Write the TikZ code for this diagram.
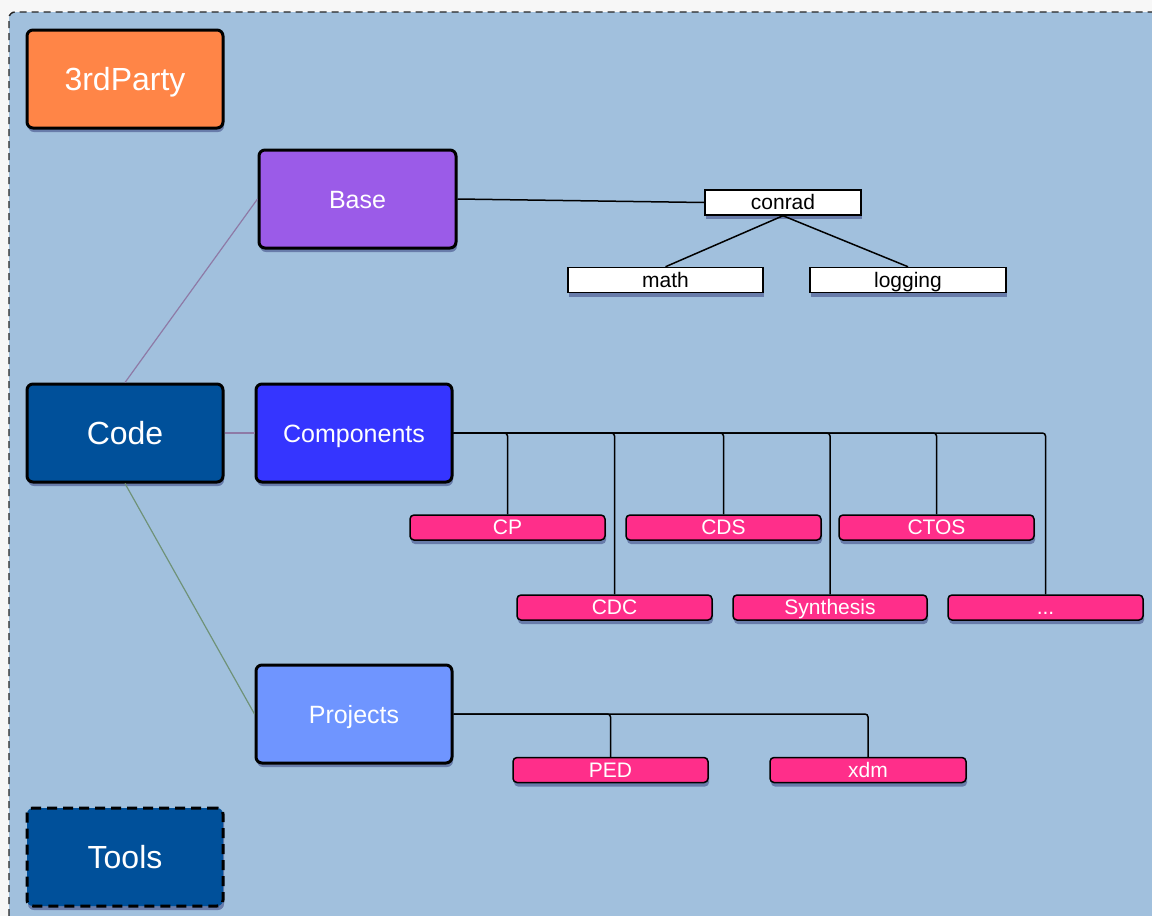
\documentclass[tikz,border=0pt]{standalone}
\usepackage{fontspec}
\setmainfont{Liberation Sans}
\usetikzlibrary{shadows}
\definecolor{paneBlue}{HTML}{A1C0DD}
\definecolor{partyOrange}{HTML}{FF8547}
\definecolor{baseViolet}{HTML}{9B5BE8}
\definecolor{codeBlue}{HTML}{00509A}
\definecolor{compBlue}{HTML}{3535FF}
\definecolor{projBlue}{HTML}{6F95FF}
\definecolor{libPink}{HTML}{FF2E8A}
\definecolor{linkViolet}{HTML}{8E7AA6}
\definecolor{linkGreen}{HTML}{6F9278}
\tikzset{
  boxshadow/.style={drop shadow={shadow xshift=1pt, shadow yshift=-4pt, opacity=.35, fill=black!70!blue}},
  bigbox/.style={draw=black, line width=3pt, rounded corners=6pt, minimum width=196pt,
    minimum height=98pt, inner sep=0pt, text=white, boxshadow},
  topfont/.style={font=\fontsize{32}{32}\selectfont, text height=23pt, text depth=0pt},
  midfont/.style={font=\fontsize{25}{25}\selectfont, text height=18pt, text depth=0pt},
  libbox/.style={draw=black, line width=1.5pt, rounded corners=4pt, minimum width=195pt,
    minimum height=25pt, inner sep=0pt, text height=15pt, text depth=1pt,
    font=\fontsize{21}{21}\selectfont, boxshadow},
  modbox/.style={libbox, fill=libPink, text=white},
  pkgbox/.style={libbox, rounded corners=0pt, fill=white, text=black},
  bus/.style={draw=black, line width=1.5pt, rounded corners=3pt},
  toplink/.style={line width=1.2pt}
}
\begin{document}
\begin{tikzpicture}[x=1pt, y=-1pt]
% page and pane
\useasboundingbox (0,0) rectangle (1152,916);
\fill[white!97!black] (0,0) rectangle (1152,916);
\fill[paneBlue, rounded corners=6pt] (9,12) rectangle (1180,940);
\draw[black!85, line width=1.4pt, dash pattern=on 7pt off 5pt, rounded corners=6pt] (9,940) -- (9,12) -- (1180,12);
% top level
\node[bigbox, fill=partyOrange, topfont] (party) at (125,79) {3rdParty};
\node[bigbox, fill=codeBlue, topfont] (code) at (125,433) {Code};
\node[bigbox, fill=codeBlue, dash pattern=on 10pt off 6pt, topfont] (tools) at (125,857) {Tools};
% second level
\node[bigbox, fill=baseViolet, minimum width=197pt, midfont] (base) at (357.5,199) {Base};
\node[bigbox, fill=compBlue, midfont] (comp) at (354,433) {Components};
\node[bigbox, fill=projBlue, midfont] (proj) at (354,714) {Projects};
% base packages
\node[pkgbox, minimum width=156pt] (conrad) at (783,202.5) {conrad};
\node[pkgbox] (math) at (665.5,280) {math};
\node[pkgbox, minimum width=196pt] (logging) at (908,280) {logging};
% components
\node[modbox] (cp) at (507.5,527.5) {CP};
\node[modbox] (cds) at (723.5,527.5) {CDS};
\node[modbox] (ctos) at (936.5,527.5) {CTOS};
\node[modbox] (cdc) at (614.5,607.5) {CDC};
\node[modbox, minimum width=194pt] (synth) at (830,607.5) {Synthesis};
\node[modbox] (more) at (1045.5,607.5) {...};
% projects
\node[modbox] (ped) at (610.5,770) {PED};
\node[modbox, minimum width=196pt] (xdm) at (868,770) {xdm};
% links from Code
\draw[toplink, linkViolet] (code.north) -- (base.west);
\draw[toplink, linkViolet] (code.east) -- (comp.west);
\draw[toplink, linkGreen] (code.south) -- (proj.west);
% base tree
\draw[bus] (base.east) -- (conrad.west);
\draw[bus] (conrad.south) -- (math.north);
\draw[bus] (conrad.south) -- (logging.north);
% component bus
\foreach \leaf in {more, ctos, synth, cds, cdc, cp}
  \draw[bus] (comp.east) -| (\leaf.north);
% project bus
\foreach \leaf in {xdm, ped}
  \draw[bus] (proj.east) -| (\leaf.north);
\end{tikzpicture}
\end{document}
